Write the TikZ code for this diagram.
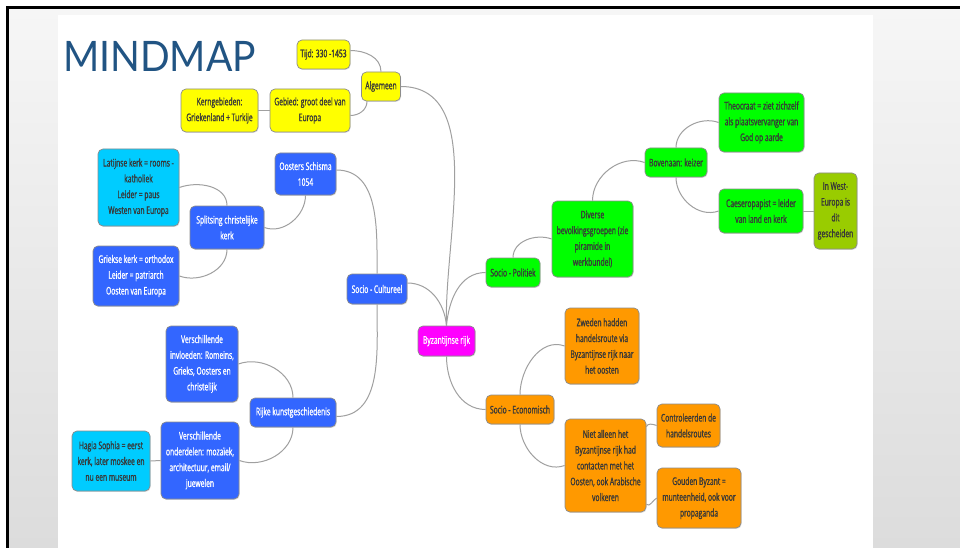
\documentclass[tikz,border=0pt]{standalone}
\usepackage{fontspec}
\setmainfont[FakeStretch=0.64, FakeBold=1.2]{Open Sans}
\newfontfamily\titlefont[FakeStretch=0.93]{Lato}
\usetikzlibrary{shadows}
\definecolor{cyel}{HTML}{FFFF00}
\definecolor{cblue}{HTML}{3366FF}
\definecolor{ccyan}{HTML}{00CCFF}
\definecolor{cmag}{HTML}{FF00FF}
\definecolor{cgreen}{HTML}{00FF00}
\definecolor{colive}{HTML}{99CC00}
\definecolor{corange}{HTML}{FF9900}
\definecolor{txtdark}{HTML}{383838}
\definecolor{bordergray}{HTML}{8C8C8C}
\definecolor{linkgray}{HTML}{A0A0A0}
\definecolor{titleblue}{HTML}{215483}
\definecolor{bgtop}{HTML}{F6F6F6}
\definecolor{bgbot}{HTML}{DCDCDC}
\tikzset{
  mm/.style={draw=bordergray, line width=0.7pt, rounded corners=5pt, align=center,
    inner sep=1pt, font=\fontsize{10.5}{15.8}\selectfont, text=txtdark,
    drop shadow={shadow xshift=0.7pt, shadow yshift=-0.9pt, opacity=0.25}},
  sz/.style 2 args={minimum width=#1pt, minimum height=#2pt},
  yel/.style={mm, fill=cyel},
  blu/.style={mm, fill=cblue, text=white},
  cya/.style={mm, fill=ccyan},
  mag/.style={mm, fill=cmag, text=white},
  grn/.style={mm, fill=cgreen},
  oli/.style={mm, fill=colive},
  ora/.style={mm, fill=corange},
  link/.style={draw=linkgray, line width=1pt}
}
\begin{document}
\begin{tikzpicture}[x=1pt, y=-1pt]
\useasboundingbox (0,0) rectangle (960,548);
\fill[white] (0,0) rectangle (960,548);
\shade[top color=bgtop, bottom color=bgbot] (8,8) rectangle (960,548);
\fill[white] (58,15) rectangle (873,548);
\draw[black, line width=3pt] (7.5,548) -- (7.5,7.5) -- (960,7.5);

\node[anchor=base west, text=titleblue, font=\titlefont\fontsize{42}{42}\selectfont, inner sep=0pt] (title) at (63,72) {MINDMAP};

% yellow
\node[yel, sz={53}{29}] (tijd) at (323.5,54.5) {Tijd: 330 -1453};
\node[yel, sz={39}{29}] (alg) at (381,86.5) {Algemeen};
\node[yel, sz={80}{43}] (geb) at (310,110.5) {Gebied: groot deel van\\Europa};
\node[yel, sz={77}{43}] (kern) at (219.5,110.5) {Kerngebieden:\\Griekenland + Turkije};

% blue
\node[blu, sz={61}{42}] (oost) at (305.5,174) {Oosters Schisma\\1054};
\node[cya, sz={81}{77}] (lat) at (138.5,187.5) {Latijnse kerk = rooms -\\katholiek\\Leider = paus\\Westen van Europa};
\node[blu, sz={74}{43}] (split) at (227,227.5) {Splitsing christelijke\\kerk};
\node[blu, sz={86}{60}] (griek) at (136,276) {Griekse kerk = orthodox\\Leider = patriarch\\Oosten van Europa};
\node[blu, sz={60}{30}] (sc) at (377,289) {Socio - Cultureel};
\node[blu, sz={72}{76}] (vi) at (202,364) {Verschillende\\invloeden: Romeins,\\Grieks, Oosters en\\christelijk};
\node[blu, sz={86}{29}] (rijke) at (293,412.5) {Rijke kunstgeschiedenis};
\node[blu, sz={78}{77}] (vo) at (200,460.5) {Verschillende\\onderdelen: mozaïek,\\architectuur, email/\\juewelen};
\node[cya, sz={78}{60}] (hagia) at (111,461) {Hagia Sophia = eerst\\kerk, later moskee en\\nu een museum};

% centre
\node[mag, sz={57}{30}] (byz) at (446.5,341) {Byzantijnse rijk};

% green
\node[grn, sz={54}{29}] (sp) at (513,272.5) {Socio - Politiek};
\node[grn, sz={81}{76}] (div) at (592.5,239) {Diverse\\bevolkingsgroepen (zie\\piramide in\\werkbundel)};
\node[grn, sz={62}{29}] (bov) at (676,162.5) {Bovenaan: keizer};
\node[grn, sz={85}{59}] (theo) at (761.5,122.5) {Theocraat = ziet zichzelf\\als plaatsvervanger van\\God op aarde};
\node[grn, sz={84}{44}] (caes) at (761,211) {Caeseropapist = leider\\van land en kerk};
\node[oli, sz={43}{76}] (inw) at (835.5,211) {In West-\\Europa is\\dit\\gescheiden};

% orange
\node[ora, sz={74}{76}] (zw) at (602,346) {Zweden hadden\\handelsroute via\\Byzantijnse rijk naar\\het oosten};
\node[ora, sz={68}{29}] (se) at (520,409.5) {Socio - Economisch};
\node[ora, sz={81}{93}] (nia) at (605.5,465.5) {Niet alleen het\\Byzantijnse rijk had\\contacten met het\\Oosten, ook Arabische\\volkeren};
\node[ora, sz={63}{43}] (con) at (688.5,425.5) {Controleerden de\\handelsroutes};
\node[ora, sz={84}{60}] (gou) at (699,498) {Gouden Byzant =\\munteenheid, ook voor\\propaganda};

% connectors
\draw[link] (alg.north) to[out=90, in=0] ([yshift=4pt]tijd.east);
\draw[link] ([xshift=-14pt]alg.south) to[out=-90, in=0] ([yshift=-5pt]geb.east);
\draw[link] (geb.west) -- (kern.east);
\draw[link] (byz.north) to[out=92, in=0, looseness=0.9] (alg.east);
\draw[link] (byz.north) to[out=95, in=0] ([yshift=6pt]sc.east);
\draw[link] (byz.north) to[out=85, in=180] (sp.west);
\draw[link] (byz.south) to[out=-90, in=180] (se.west);
\draw[link] (sc.north) to[out=90, in=0] ([yshift=4pt]oost.east);
\draw[link] (sc.south) to[out=-90, in=0] ([yshift=-4pt]rijke.east);
\draw[link] (oost.south) to[out=-90, in=-20] (split.east);
\draw[link] (split.north) to[out=90, in=20] (lat.east);
\draw[link] (split.south) to[out=-90, in=-20] (griek.east);
\draw[link] (rijke.north) to[out=90, in=20] (vi.east);
\draw[link] (rijke.south) to[out=-90, in=-20] (vo.east);
\draw[link] (vo.west) -- (hagia.east);
\draw[link] (sp.north) to[out=90, in=160] (div.west);
\draw[link] (div.north) to[out=90, in=160] (bov.west);
\draw[link] (bov.north) to[out=90, in=160] (theo.west);
\draw[link] (bov.south) to[out=-90, in=-160] (caes.west);
\draw[link] (caes.east) -- (inw.west);
\draw[link] (se.north) to[out=90, in=160] (zw.west);
\draw[link] (se.south) to[out=-90, in=-160] (nia.west);
\draw[link] ([yshift=-8pt]nia.north east) to[out=70, in=160] (con.west);
\draw[link] ([yshift=8pt]nia.south east) to[out=-40, in=-150] (gou.west);
\end{tikzpicture}
\end{document}
